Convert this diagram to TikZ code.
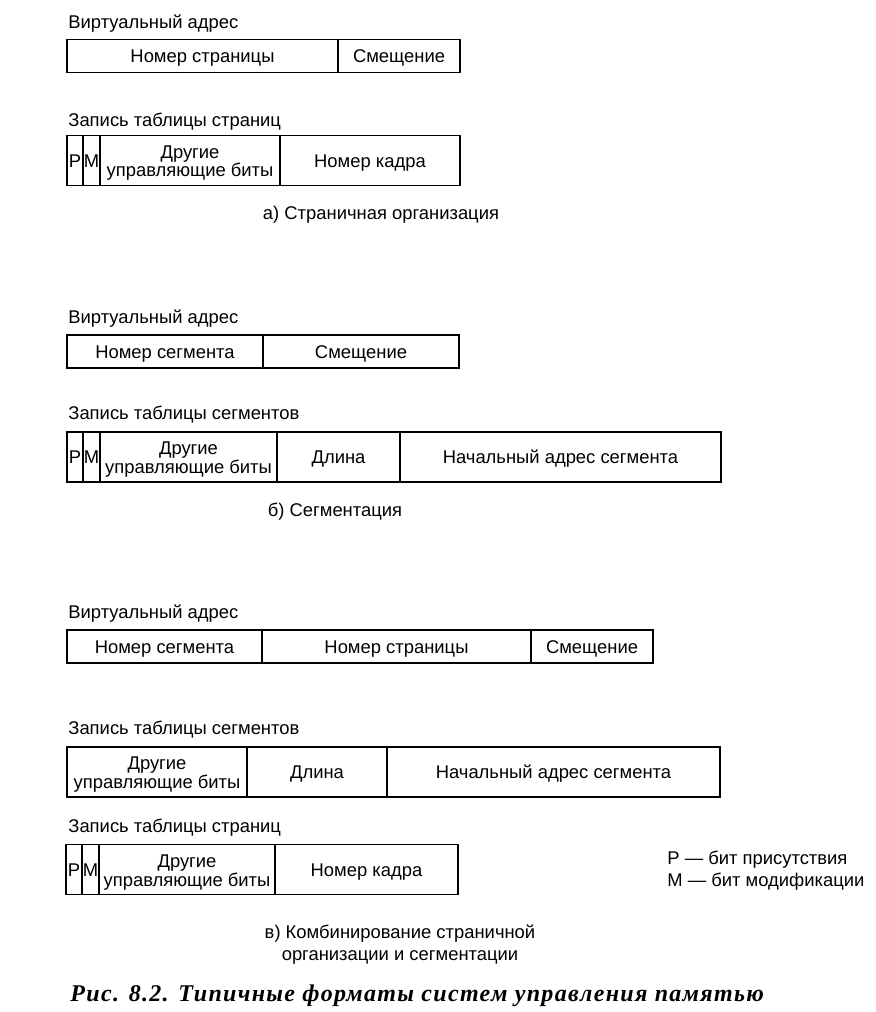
\documentclass[tikz,border=0pt]{standalone}
\usepackage{fontspec}
\setmainfont{Liberation Sans}
\newfontfamily\capfont{Liberation Serif}[LetterSpace=5.5]
\newcommand{\cellstrut}{\rule[-2.4pt]{0pt}{11.4pt}}
\usetikzlibrary{chains,positioning}

\begin{document}
\begin{tikzpicture}[x=0.5pt,y=-0.5pt,
  every node/.style={font=\fontsize{9.2pt}{9.4pt}\selectfont},
  field/.style={draw,line width=0.8pt,outer sep=0pt,inner sep=0pt,anchor=west,
    align=center,minimum width=#1*0.5pt,minimum height=16.5pt},
  tall/.style={minimum height=25pt},
  head/.style={anchor=base west,inner sep=0pt},
  sub/.style={inner sep=0pt,align=center,font=\fontsize{9.2pt}{11pt}\selectfont}]

\useasboundingbox (0,0) rectangle (875,1012);

% а) страничная организация
\node[head] (ahead1) at (68,28) {Виртуальный адрес};
\begin{scope}[shift={(67,56)},start chain=going right,node distance=0pt]
\def\avaddr{1/271/{Номер страницы},2/122/{Смещение}}
\foreach \i / \w / \element in \avaddr
  \node [on chain,field=\w] (av\i) {\cellstrut\element};
\end{scope}

\node[head] (ahead2) at (68,126) {Запись таблицы страниц};
\begin{scope}[shift={(67,160.5)},start chain=going right,node distance=0pt]
\def\apage{1/16/{P},2/17/{M},3/180/{Другие\\управляющие биты},4/180/{Номер кадра}}
\foreach \i / \w / \element in \apage
  \node [on chain,field=\w,tall] (ap\i) {\cellstrut\element};
\end{scope}

\node[sub,anchor=base] (acap) at (381,219) {а) Страничная организация};

% б) сегментация
\node[head] (bhead1) at (68,323) {Виртуальный адрес};
\begin{scope}[shift={(67,351.5)},start chain=going right,node distance=0pt]
\def\bvaddr{1/196/{Номер сегмента},2/196/{Смещение}}
\foreach \i / \w / \element in \bvaddr
  \node [on chain,field=\w] (bv\i) {\cellstrut\element};
\end{scope}

\node[head] (bhead2) at (68,419) {Запись таблицы сегментов};
\begin{scope}[shift={(67,457)},start chain=going right,node distance=0pt]
\def\bseg{1/16/{P},2/17/{M},3/177/{Другие\\управляющие биты},4/123/{Длина},5/321/{Начальный адрес сегмента}}
\foreach \i / \w / \element in \bseg
  \node [on chain,field=\w,tall] (bs\i) {\cellstrut\element};
\end{scope}

\node[sub,anchor=base] (bcap) at (335,516) {б) Сегментация};

% в) комбинирование
\node[head] (chead1) at (68,618) {Виртуальный адрес};
\begin{scope}[shift={(67,646.5)},start chain=going right,node distance=0pt]
\def\cvaddr{1/195/{Номер сегмента},2/269/{Номер страницы},3/122/{Смещение}}
\foreach \i / \w / \element in \cvaddr
  \node [on chain,field=\w] (cv\i) {\cellstrut\element};
\end{scope}

\node[head] (chead2) at (68,734) {Запись таблицы сегментов};
\begin{scope}[shift={(67,772)},start chain=going right,node distance=0pt]
\def\cseg{1/180/{Другие\\управляющие биты},2/140/{Длина},3/333/{Начальный адрес сегмента}}
\foreach \i / \w / \element in \cseg
  \node [on chain,field=\w,tall] (cs\i) {\cellstrut\element};
\end{scope}

\node[head] (chead3) at (68,832) {Запись таблицы страниц};
\begin{scope}[shift={(66,869.5)},start chain=going right,node distance=0pt]
\def\cpage{1/16/{P},2/17/{M},3/176/{Другие\\управляющие биты},4/183/{Номер кадра}}
\foreach \i / \w / \element in \cpage
  \node [on chain,field=\w,tall] (cp\i) {\cellstrut\element};
\end{scope}

\node[sub,align=left,anchor=west] (legend) at (667,871)
  {P — бит присутствия\\M — бит модификации};

\node[sub] (ccap) at (400,945) {в) Комбинирование страничной\\организации и сегментации};

\node[anchor=base west,inner sep=0pt,font=\capfont\fontsize{12pt}{14pt}\selectfont\bfseries\itshape]
  (figcap) at (70,1001) {Рис. 8.2. Типичные форматы систем управления памятью};

\end{tikzpicture}
\end{document}
